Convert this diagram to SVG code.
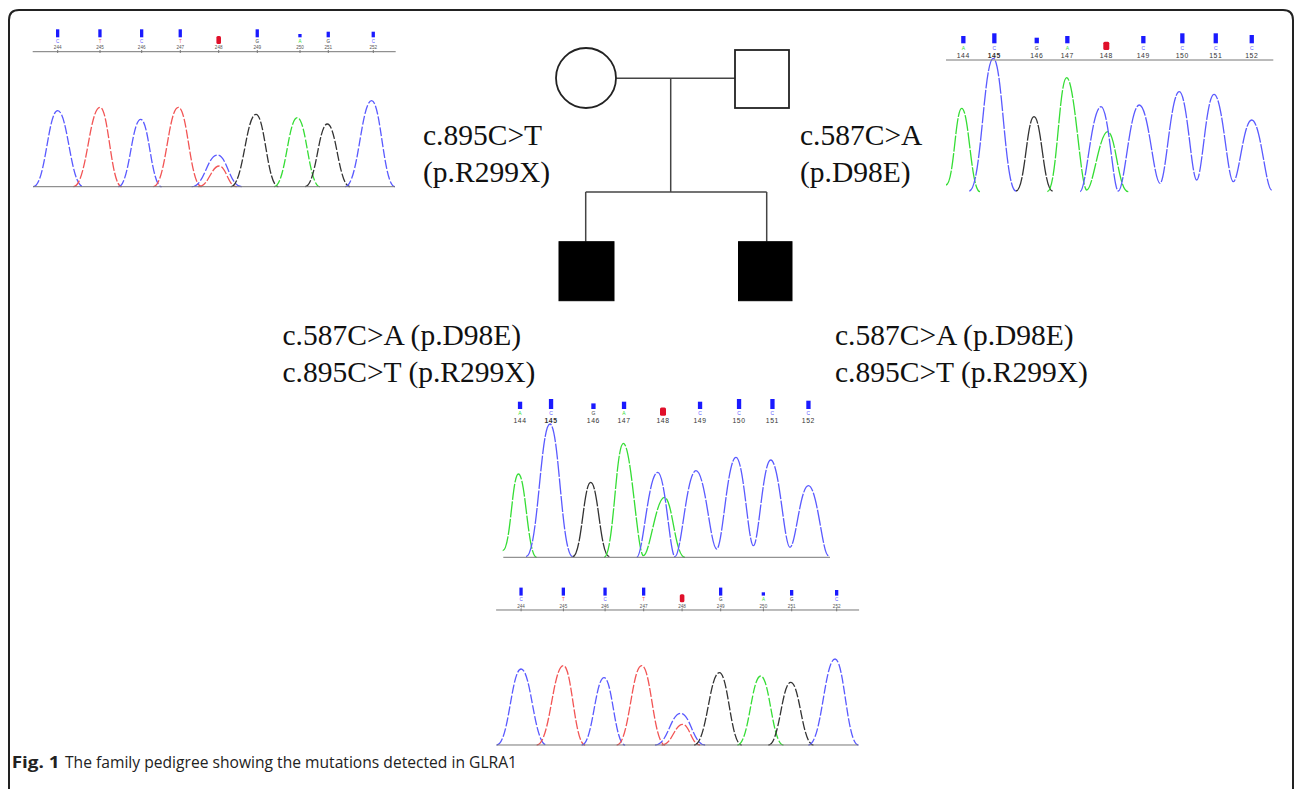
<svg xmlns="http://www.w3.org/2000/svg" xmlns:xlink="http://www.w3.org/1999/xlink" width="1295" height="789" viewBox="0 0 1295 789">
<style>
.lbl{font-family:"Liberation Serif","Times New Roman",serif;font-size:29.5px;fill:#111}
.ped{fill:none;stroke:#222;stroke-width:1.8}
.aff{fill:#000;stroke:#000;stroke-width:1}
.conn{fill:none;stroke:#444;stroke-width:1.5}
.tr{fill:none;stroke-width:1.3;stroke-linejoin:round}
.d1{stroke-dasharray:9 2}
.d2{stroke-dasharray:16 1.5}
.b{stroke:#5a5aff}.r{stroke:#f25555}.g{stroke:#35dd35}.k{stroke:#333}
.bar{fill:#1a1aff}.nbar{fill:#e0102a}
.lt{font-family:"Liberation Sans",Arial,sans-serif;text-anchor:middle}
.axis{stroke:#777;stroke-width:1}
.cap{font-family:"Open Sans","Liberation Sans",sans-serif;font-size:15.5px;fill:#222}
</style>
<defs>
<g id="trace244">
  <g class="tr d1">
    <path class="b" d="M33.3,186.7 C45.5,186.7 47.9,110.7 57.7,110.7 C67.9,110.7 70.5,186.7 83.3,186.7"/>
    <path class="r" d="M73.3,186.7 C86.7,186.7 89.3,107.3 100,107.3 C108.7,107.3 110.9,186.7 121.7,186.7"/>
    <path class="b" d="M118.3,186.7 C129.5,186.7 131.7,119.3 140.7,119.3 C149.1,119.3 151.2,186.7 161.7,186.7"/>
    <path class="r" d="M153.3,186.7 C165.8,186.7 168.3,107.3 178.3,107.3 C187.7,107.3 190,186.7 201.7,186.7"/>
    <path class="b" d="M191.7,186.7 C204.5,186.7 207.1,155 217.3,155 C227.1,155 229.5,186.7 241.7,186.7"/>
    <path class="r" d="M198.3,186.7 C208.8,186.7 210.9,166 219.3,166 C226.3,166 228,186.7 236.7,186.7"/>
    <path class="k" d="M230.7,186.7 C243.4,186.7 245.9,114.3 256,114.3 C264.9,114.3 267.2,186.7 278.3,186.7"/>
    <path class="g" d="M274,186.7 C285.7,186.7 288,117.7 297.3,117.7 C306.4,117.7 308.7,186.7 320,186.7"/>
    <path class="k" d="M305,186.7 C316.2,186.7 318.4,124 327.3,124 C336.4,124 338.7,186.7 350,186.7"/>
    <path class="b" d="M345,186.7 C358.4,186.7 361,100.7 371.7,100.7 C381,100.7 383.4,186.7 395,186.7"/>
  </g>
  <g>
    <rect class="bar" x="56" y="29.3" width="3.3" height="8"/>
    <rect class="bar" x="98.3" y="29.3" width="3.3" height="8"/>
    <rect class="bar" x="140" y="29.3" width="3.3" height="8"/>
    <rect class="bar" x="178.6" y="29.3" width="3.3" height="8"/>
    <rect class="nbar" x="216.4" y="36" width="4.6" height="8" rx="1.5"/>
    <rect class="bar" x="255.6" y="29.3" width="3.3" height="8"/>
    <rect class="bar" x="298.3" y="34" width="3.3" height="3.3"/>
    <rect class="bar" x="326.6" y="31.7" width="3.3" height="5.6"/>
    <rect class="bar" x="371.6" y="31.7" width="3.3" height="5.6"/>
  </g>
  <g class="lt" font-size="4.5">
    <text x="57.7" y="42.5" fill="#5a5aff">C</text>
    <text x="100" y="42.5" fill="#f25555">T</text>
    <text x="141.7" y="42.5" fill="#5a5aff">C</text>
    <text x="180.3" y="42.5" fill="#f25555">T</text>
    <text x="257.3" y="42.5" fill="#333">G</text>
    <text x="300" y="42.5" fill="#35dd35">A</text>
    <text x="328.3" y="42.5" fill="#333">G</text>
    <text x="373.3" y="42.5" fill="#5a5aff">C</text>
  </g>
  <g class="lt" font-size="4.6" fill="#555">
    <text x="57.7" y="49.3">244</text>
    <text x="100" y="49.3">245</text>
    <text x="141.7" y="49.3">246</text>
    <text x="180.3" y="49.3">247</text>
    <text x="218.7" y="49.3">248</text>
    <text x="257.3" y="49.3">249</text>
    <text x="300" y="49.3">250</text>
    <text x="328.3" y="49.3">251</text>
    <text x="373.3" y="49.3">252</text>
  </g>
  <path class="axis" d="M32.7,51.7 H395.7 M57.7,50 V53 M100,50 V53 M141.7,50 V53 M180.3,50 V53 M218.7,50 V53 M257.3,50 V53 M300,50 V53 M328.3,50 V53 M373.3,50 V53"/>
  <path class="axis" stroke="#888" d="M33,186.7 H395"/>
</g>
<g id="trace144">
  <g class="tr d2">
    <path class="g" d="M946,185 C953.9,185 955.4,108.3 961.7,108.3 C969,108.3 970.9,191.7 980,191.7"/>
    <path class="b" d="M969.3,191 C981.3,191 983.7,58.3 993.3,58.3 C1002.4,58.3 1004.7,191 1016,191"/>
    <path class="k" d="M1016,191 C1025,191 1026.8,116.7 1034,116.7 C1041.5,116.7 1043.4,191 1052.7,191"/>
    <path class="g" d="M1047.3,191.7 C1057,191.7 1059,77.7 1066.7,77.7 C1074.7,77.7 1080.7,190 1086.7,190 C1093,190 1099.3,131.7 1107.7,131.7 C1115.9,131.7 1118,191.7 1128.3,191.7"/>
    <path class="b" d="M1080,191.7 C1086.3,191.7 1091.5,106.7 1101,106.7 C1108.8,106.7 1113.1,191 1118.3,191 C1124.6,191 1129.8,105 1139.3,105 C1148.6,105 1153.8,183.3 1160,183.3 C1165.8,183.3 1170.6,91.7 1179.3,91.7 C1187.1,91.7 1191.5,180 1196.7,180 C1201.9,180 1206.2,94.3 1214,94.3 C1222.7,94.3 1227.5,181.7 1233.3,181.7 C1238.8,181.7 1243.4,120 1251.7,120 C1260.7,120 1265.7,190 1271.7,190"/>
  </g>
  <g>
    <rect class="bar" x="961.2" y="36" width="4.3" height="7.3"/>
    <rect class="bar" x="992.2" y="33.3" width="4.3" height="10"/>
    <rect class="bar" x="1034.6" y="37.7" width="4.3" height="5.6"/>
    <rect class="bar" x="1065.2" y="36" width="4.3" height="7.3"/>
    <rect class="nbar" x="1103.3" y="41.7" width="6" height="8.3" rx="1.5"/>
    <rect class="bar" x="1141.2" y="36" width="4.3" height="7.3"/>
    <rect class="bar" x="1180.2" y="33.3" width="4.3" height="10"/>
    <rect class="bar" x="1213.6" y="33.3" width="4.3" height="10"/>
    <rect class="bar" x="1249.6" y="35" width="4.3" height="8.3"/>
  </g>
  <g class="lt" font-size="5">
    <text x="963.3" y="49.5" fill="#35dd35">A</text>
    <text x="994.3" y="49.5" fill="#5a5aff">C</text>
    <text x="1036.7" y="49.5" fill="#333">G</text>
    <text x="1067.3" y="49.5" fill="#35dd35">A</text>
    <text x="1143.3" y="49.5" fill="#5a5aff">C</text>
    <text x="1182.3" y="49.5" fill="#5a5aff">C</text>
    <text x="1215.7" y="49.5" fill="#5a5aff">C</text>
    <text x="1251.7" y="49.5" fill="#5a5aff">C</text>
  </g>
  <g class="lt" font-size="6.8" fill="#333" letter-spacing="0.6">
    <text x="963.3" y="57.6">144</text>
    <text x="994.3" y="57.6" font-weight="bold">145</text>
    <text x="1036.7" y="57.6">146</text>
    <text x="1067.3" y="57.6">147</text>
    <text x="1106.3" y="57.6">148</text>
    <text x="1143.3" y="57.6">149</text>
    <text x="1182.3" y="57.6">150</text>
    <text x="1215.7" y="57.6">151</text>
    <text x="1251.7" y="57.6">152</text>
  </g>
</g>
</defs>

<path id="frame" d="M9,789 V20 Q9,10 19,10 H1283 Q1293,10 1293,20 V789" fill="none" stroke="#222" stroke-width="2"/>

<g id="chrom-father-top-left">
  <use xlink:href="#trace244" href="#trace244"/>
</g>
<g id="chrom-mother-top-right">
  <use xlink:href="#trace144" href="#trace144"/>
  <path class="axis" d="M946,60 H1273.3"/>
</g>
<g id="chrom-child-144" transform="translate(-443.3,365.7)">
  <use xlink:href="#trace144" href="#trace144"/>
  <path class="axis" stroke="#888" d="M946.6,191.6 H1273.3"/>
</g>
<g id="chrom-child-244" transform="translate(463.4,558.3)">
  <use xlink:href="#trace244" href="#trace244"/>
</g>

<g id="connectors">
  <path class="conn" d="M616,78.3 H735"/>
  <path class="conn" d="M670.7,78.3 V192"/>
  <path class="conn" d="M585.7,192 H766.7"/>
  <path class="conn" d="M585.7,192 V241.7"/>
  <path class="conn" d="M766.7,192 V241.7"/>
</g>

<g id="mother"><circle class="ped" cx="586" cy="78" r="30"/></g>
<g id="father"><rect class="ped" x="735" y="50" width="54" height="58"/></g>
<g id="son1"><rect class="aff" x="559" y="241.7" width="55" height="59"/></g>
<g id="son2"><rect class="aff" x="738.5" y="241.7" width="53.5" height="59"/></g>

<g id="labels">
  <text class="lbl" x="423" y="145">c.895C&gt;T</text>
  <text class="lbl" x="423" y="181.7">(p.R299X)</text>
  <text class="lbl" x="800" y="145">c.587C&gt;A</text>
  <text class="lbl" x="800" y="181.7">(p.D98E)</text>
  <text class="lbl" x="282.5" y="345">c.587C&gt;A (p.D98E)</text>
  <text class="lbl" x="282.5" y="381.7">c.895C&gt;T (p.R299X)</text>
  <text class="lbl" x="835" y="345">c.587C&gt;A (p.D98E)</text>
  <text class="lbl" x="835" y="381.7">c.895C&gt;T (p.R299X)</text>
</g>

<g id="caption">
  <text class="cap" x="11.7" y="768" font-weight="bold" textLength="48" lengthAdjust="spacingAndGlyphs">Fig. 1</text>
  <text class="cap" x="65" y="768" textLength="452" lengthAdjust="spacingAndGlyphs">The family pedigree showing the mutations detected in GLRA1</text>
</g>
</svg>
